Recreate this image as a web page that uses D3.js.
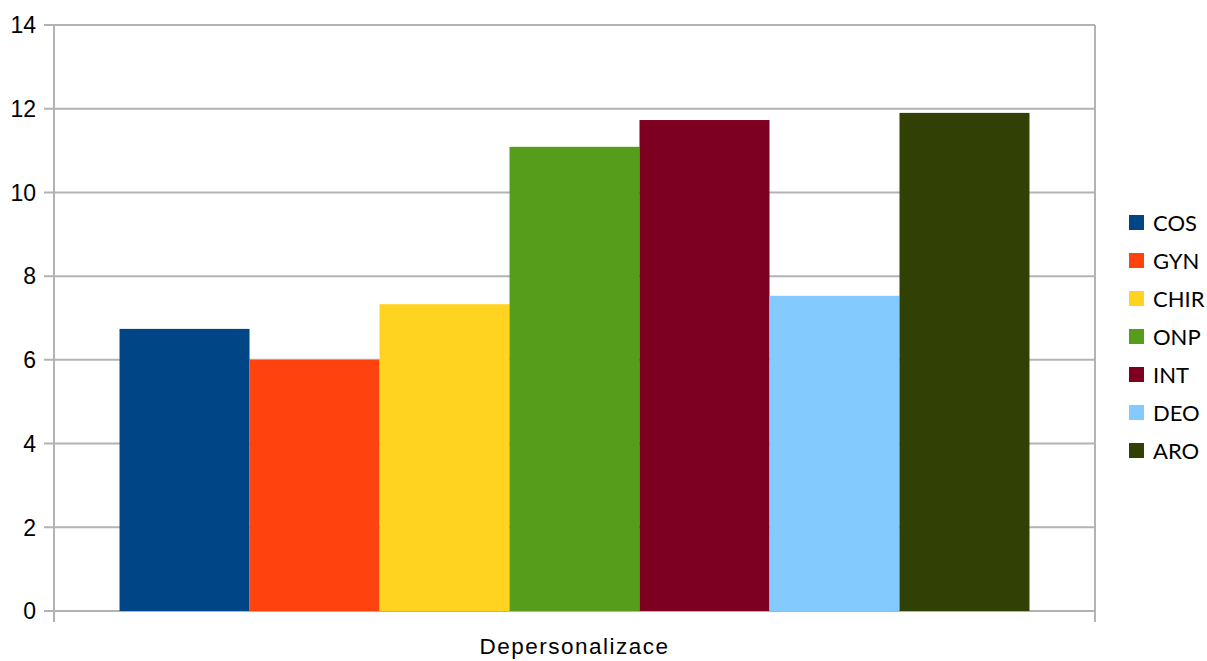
<!DOCTYPE html>
<html>
<head>
<meta charset="utf-8">
<script src="https://cdn.jsdelivr.net/npm/d3@7"></script>
<style>
  html, body { margin: 0; padding: 0; background: #fff; }
  svg { display: block; }
</style>
</head>
<body>
<svg id="chart" width="1207" height="661"></svg>
<script>
// Depersonalization scores by department
const categories = ["Depersonalizace"];
const seriesNames = ["COS", "GYN", "CHIR", "ONP", "INT", "DEO", "ARO"];
const seriesValues = [6.74, 6.0, 7.33, 11.09, 11.73, 7.53, 11.9];
const seriesColors = ["#004586", "#ff420e", "#ffd320", "#579d1c", "#7e0021", "#83caff", "#314004"];
const yTicks = [0, 2, 4, 6, 8, 10, 12, 14];

const svg = d3.select("#chart");
const plot = { left: 54, right: 1095, top: 25, bottom: 611 };
const gridColor = "#b3b3b3";

const y = d3.scaleLinear().domain([0, 14]).range([plot.bottom, plot.top]);
const x0 = d3.scaleBand().domain(categories).range([plot.left, plot.right]).paddingInner(0).paddingOuter(0.072);
const x1 = d3.scaleBand().domain(seriesNames).range([0, x0.bandwidth()]).padding(0);

// horizontal gridlines
svg.append("g").selectAll("line").data(yTicks).join("line")
  .attr("x1", plot.left - 10).attr("x2", plot.right)
  .attr("y1", d => y(d)).attr("y2", d => y(d))
  .attr("stroke", gridColor).attr("stroke-width", 2);

// vertical frame lines (axis and right edge) with bottom ticks
svg.append("g").selectAll("line").data([plot.left, plot.right]).join("line")
  .attr("x1", d => d).attr("x2", d => d)
  .attr("y1", plot.top).attr("y2", plot.bottom + 11)
  .attr("stroke", gridColor).attr("stroke-width", 2);

// bars
const groups = svg.append("g").selectAll("g").data(categories).join("g")
  .attr("transform", c => `translate(${x0(c)},0)`);
groups.selectAll("rect")
  .data(() => seriesNames.map((n, i) => ({ name: n, value: seriesValues[i], color: seriesColors[i] })))
  .join("rect")
  .attr("x", d => x1(d.name))
  .attr("width", x1.bandwidth())
  .attr("y", d => y(d.value))
  .attr("height", d => y(0) - y(d.value))
  .attr("fill", d => d.color);

// y tick labels
svg.append("g").selectAll("text").data(yTicks).join("text")
  .attr("x", 36).attr("y", d => y(d))
  .attr("dy", "0.36em")
  .attr("text-anchor", "end")
  .attr("font-family", "'Liberation Sans', Arial, sans-serif")
  .attr("font-size", 23)
  .attr("fill", "#000")
  .text(d => d);

// category label
svg.append("g").selectAll("text").data(categories).join("text")
  .attr("x", c => x0(c) + x0.bandwidth() / 2)
  .attr("y", 654)
  .attr("text-anchor", "middle")
  .attr("font-family", "'Liberation Sans', Arial, sans-serif")
  .attr("font-size", 22.5)
  .attr("letter-spacing", 1.5)
  .attr("fill", "#000")
  .text(c => c);

// legend
const legend = svg.append("g").attr("transform", "translate(1129,215)");
const rows = legend.selectAll("g").data(seriesNames).join("g")
  .attr("transform", (d, i) => `translate(0,${i * 38})`);
rows.append("rect")
  .attr("width", 15).attr("height", 15)
  .attr("fill", (d, i) => seriesColors[i]);
rows.append("text")
  .attr("x", 24).attr("y", 8)
  .attr("dy", "0.36em")
  .attr("font-family", "Lato, 'Open Sans', sans-serif")
  .attr("font-size", 22)
  .attr("fill", "#000")
  .text(d => d);
</script>
</body>
</html>
